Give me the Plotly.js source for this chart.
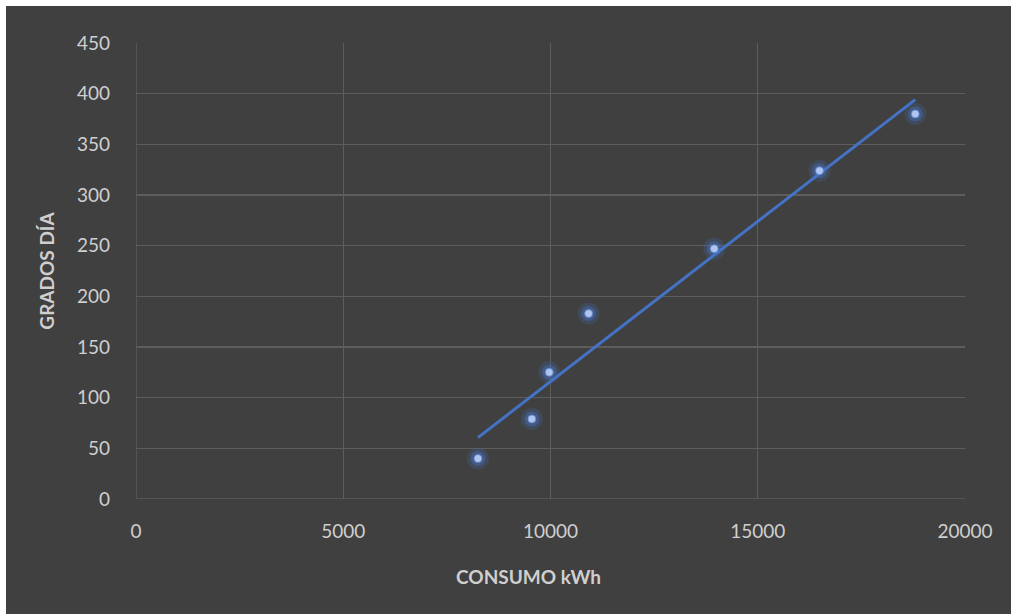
<!DOCTYPE html>
<html><head><meta charset="utf-8">
<script src="https://cdn.plot.ly/plotly-3.0.1.min.js"></script>
<style>html,body{margin:0;padding:0;background:#ffffff;width:1011px;height:614px;overflow:hidden}
#chart{position:absolute;left:6px;top:6px;width:1005px;height:608px}</style>
</head><body><div id="chart"></div>
<script>
const consumo = [8250, 9550, 9970, 10920, 13950, 16490, 18800];
const gradosDia = [40, 79, 125, 183, 247, 324, 380];
const xTicks = [0, 5000, 10000, 15000, 20000];
const yTicks = [0, 50, 100, 150, 200, 250, 300, 350, 400, 450];
const xTitle = 'CONSUMO kWh';
const yTitle = 'GRADOS DÍA';

// linear least-squares trendline from the data
const n = consumo.length;
const mx = consumo.reduce((a,b)=>a+b,0)/n;
const my = gradosDia.reduce((a,b)=>a+b,0)/n;
let sxy=0, sxx=0;
for(let i=0;i<n;i++){sxy+=(consumo[i]-mx)*(gradosDia[i]-my);sxx+=(consumo[i]-mx)**2;}
const slope = sxy/sxx, icpt = my - slope*mx;
const xMin = Math.min(...consumo), xMax = Math.max(...consumo);
const trendX = [xMin, xMax];
const trendY = trendX.map(x=>icpt+slope*x);

const font = "Lato, 'Open Sans', sans-serif";
const txt = '#cfcfcf';
const grid = '#5d5d5d';

const data = [
  {x: consumo, y: gradosDia, mode:'markers', type:'scatter', hoverinfo:'skip',
   marker:{size:22, color:'rgba(68,114,196,0.2)', line:{width:0}}},
  {x: consumo, y: gradosDia, mode:'markers', type:'scatter', hoverinfo:'skip',
   marker:{size:15, color:'rgba(68,114,196,0.4)', line:{width:0}}},
  {x: trendX, y: trendY, mode:'lines', type:'scatter',
   line:{color:'#4472c4', width:3}},
  {x: consumo, y: gradosDia, mode:'markers', type:'scatter',
   marker:{size:8, color:'#afc4ef', line:{width:1, color:'rgba(90,130,205,0.8)'}}}
];
const layout = {
  width:1005, height:608,
  paper_bgcolor:'#404040', plot_bgcolor:'#404040',
  showlegend:false,
  margin:{l:130, r:46, t:37, b:115},
  font:{family:font, color:txt, size:20},
  xaxis:{range:[0,20000], tickvals:xTicks, ticktext:xTicks.map(String),
    showgrid:true, gridcolor:grid, gridwidth:1.4, zeroline:false,
    showline:false, ticks:'', ticklabelstandoff:19, tickfont:{size:19, color:txt}},
  yaxis:{range:[0,450], tickvals:yTicks, ticktext:yTicks.map(String),
    showgrid:true, gridcolor:grid, gridwidth:1.4, zeroline:false,
    showline:false, ticks:'', ticklabelstandoff:25, tickfont:{size:19, color:txt},
    automargin:true,
    title:{text:'<b>'+yTitle+'</b>', font:{size:19, color:txt}, standoff:17}},
  annotations:[
    {text:'<b>'+xTitle+'</b>', xref:'paper', yref:'paper', x:0.473, y:-0.171,
     xanchor:'center', yanchor:'middle', showarrow:false, font:{size:19, color:txt}}
  ],
  shapes:[
    {type:'line', xref:'x', yref:'y', x0:0, x1:20000, y0:0, y1:0, line:{color:grid, width:1.4}, layer:'below'},
    {type:'line', xref:'x', yref:'y', x0:0, x1:0, y0:0, y1:450, line:{color:grid, width:1.4}, layer:'below'}
  ]
};
Plotly.newPlot('chart', data, layout, {displayModeBar:false, staticPlot:true});
</script></body></html>
